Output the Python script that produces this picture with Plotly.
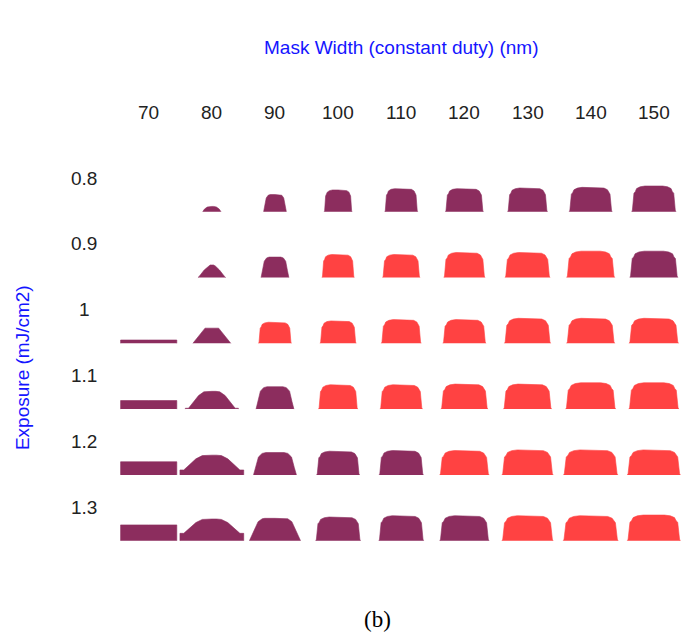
import plotly.graph_objects as go

# Axis categories
mask_widths = [70, 80, 90, 100, 110, 120, 130, 140, 150]
exposures = [0.8, 0.9, 1.0, 1.1, 1.2, 1.3]
mask_labels = ["70", "80", "90", "100", "110", "120", "130", "140", "150"]
exposure_labels = ["0.8", "0.9", "1", "1.1", "1.2", "1.3"]

# Resist profile per (exposure, mask width): outline kind, bottom width and
# height (fractions of the column / row pitch), footing height and result class.
kind = [
    ["",    "dome", "taper", "block", "block", "block", "block", "block", "block"],
    ["",    "peak", "taper", "block", "block", "block", "block", "block", "block"],
    ["bar", "cone", "block", "block", "block", "block", "block", "block", "block"],
    ["bar", "bump", "taper", "block", "block", "block", "block", "block", "block"],
    ["bar", "bump", "taper", "block", "block", "block", "block", "block", "block"],
    ["bar", "bump", "trap",  "block", "block", "block", "block", "block", "block"],
]
bottom_width = [
    [0.00, 0.29, 0.36, 0.44, 0.52, 0.60, 0.63, 0.68, 0.70],
    [0.00, 0.44, 0.44, 0.51, 0.59, 0.65, 0.71, 0.76, 0.76],
    [0.89, 0.60, 0.52, 0.57, 0.63, 0.68, 0.73, 0.76, 0.78],
    [0.89, 0.84, 0.60, 0.62, 0.67, 0.74, 0.76, 0.79, 0.79],
    [0.89, 1.01, 0.68, 0.68, 0.70, 0.78, 0.81, 0.86, 0.84],
    [0.89, 1.01, 0.81, 0.71, 0.71, 0.78, 0.81, 0.87, 0.84],
]
height = [
    [0.00, 0.08, 0.26, 0.33, 0.35, 0.35, 0.36, 0.37, 0.39],
    [0.00, 0.19, 0.31, 0.35, 0.35, 0.38, 0.38, 0.40, 0.40],
    [0.05, 0.23, 0.32, 0.34, 0.36, 0.36, 0.38, 0.38, 0.38],
    [0.13, 0.27, 0.34, 0.37, 0.37, 0.38, 0.38, 0.40, 0.40],
    [0.20, 0.30, 0.34, 0.36, 0.37, 0.37, 0.38, 0.38, 0.38],
    [0.24, 0.33, 0.34, 0.36, 0.38, 0.38, 0.38, 0.38, 0.39],
]
footing = [
    [0, 0, 0, 0, 0, 0, 0, 0, 0],
    [0, 0, 0, 0, 0, 0, 0, 0, 0],
    [0, 0, 0, 0, 0, 0, 0, 0, 0],
    [0, 0.05, 0, 0, 0, 0, 0, 0, 0],
    [0, 0.25, 0, 0, 0, 0, 0, 0, 0],
    [0, 0.34, 0, 0, 0, 0, 0, 0, 0],
]
# F = out of specification, S = within specification
result = [
    ["", "F", "F", "F", "F", "F", "F", "F", "F"],
    ["", "F", "F", "S", "S", "S", "S", "S", "F"],
    ["F", "F", "S", "S", "S", "S", "S", "S", "S"],
    ["F", "F", "F", "S", "S", "S", "S", "S", "S"],
    ["F", "F", "F", "F", "F", "S", "S", "S", "S"],
    ["F", "F", "F", "F", "F", "F", "S", "S", "S"],
]

colors = {"F": "#8C2D5E", "S": "#FF4242"}

# Half-profile outlines, (u, v): u = fraction of half width, v = fraction of height
outlines = {
    "bar":   [(1.0, 0.0), (1.0, 1.0), (0.0, 1.0)],
    "dome":  [(1.0, 0.0), (0.8, 0.5), (0.5, 0.88), (0.2, 1.0), (0.0, 1.0)],
    "peak":  [(1.0, 0.0), (0.9, 0.1), (0.55, 0.6), (0.25, 0.92), (0.12, 1.0), (0.0, 1.0)],
    "cone":  [(1.0, 0.0), (0.36, 1.0), (0.0, 1.0)],
    "taper": [(1.0, 0.0), (0.9, 0.33), (0.77, 0.8), (0.6, 0.96), (0.42, 1.0), (0.0, 1.0)],
    "trap":  [(1.0, 0.0), (0.82, 0.48), (0.66, 0.85), (0.5, 0.98), (0.4, 1.0), (0.0, 1.0)],
    "block": [(1.0, 0.0), (0.97, 0.06), (0.9, 0.72), (0.84, 0.78), (0.78, 0.9),
              (0.62, 0.97), (0.4, 1.0), (0.0, 1.0)],
}


def half_outline(k, f):
    if k == "bump":
        s = 1 - f
        return [(1.0, 0.0), (1.0, f), (0.88, f), (0.72, f + 0.3 * s),
                (0.5, f + 0.75 * s), (0.3, f + 0.97 * s), (0.15, 1.0), (0.0, 1.0)]
    return outlines[k]


polys = {"F": ([], []), "S": ([], [])}
for j, row in enumerate(kind):
    for i, k in enumerate(row):
        if not k:
            continue
        w, h = bottom_width[j][i], height[j][i]
        half = half_outline(k, footing[j][i])
        left = [(i - u * w / 2, j - v * h) for u, v in half]
        right = [(i + u * w / 2, j - v * h) for u, v in reversed(half)]
        xs, ys = polys[result[j][i]]
        for x, y in left + right:
            xs.append(x)
            ys.append(y)
        xs.append(None)
        ys.append(None)

fig = go.Figure()
for key, (xs, ys) in polys.items():
    fig.add_trace(go.Scatter(
        x=xs, y=ys, mode="lines", fill="toself", fillcolor=colors[key],
        line=dict(width=0.6, color=colors[key]), hoverinfo="skip", showlegend=False,
    ))

sans = "Arial, Liberation Sans, sans-serif"
ann = []
for i, lab in enumerate(mask_labels):
    ann.append(dict(x=i, y=-1.51, text=lab, showarrow=False,
                    font=dict(family=sans, size=19, color="#222222")))
for j, lab in enumerate(exposure_labels):
    ann.append(dict(x=-1.02, y=j - 0.51, text=lab, showarrow=False,
                    font=dict(family=sans, size=19, color="#222222")))
ann.append(dict(x=4.0, y=-2.5, text="Mask Width (constant duty) (nm)", showarrow=False,
                font=dict(family=sans, size=19, color="#1515FF")))
ann.append(dict(x=-2.0, y=2.37, text="Exposure (mJ/cm2)", showarrow=False, textangle=-90,
                font=dict(family=sans, size=19, color="#1515FF")))
ann.append(dict(x=3.62, y=6.19, text="(b)", showarrow=False,
                font=dict(family="Times New Roman, Liberation Serif, serif", size=23,
                          color="#000000")))

fig.update_layout(
    width=683, height=636,
    margin=dict(l=0, r=0, t=0, b=0),
    paper_bgcolor="white", plot_bgcolor="white",
    xaxis=dict(range=[-2.355, 8.462], visible=False, fixedrange=True),
    yaxis=dict(range=[6.448, -3.217], visible=False, fixedrange=True),
    annotations=ann,
)

fig.write_html("out.html")
